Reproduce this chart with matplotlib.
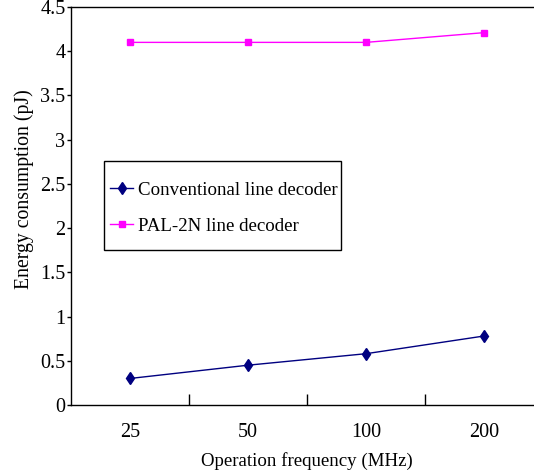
import matplotlib.pyplot as plt
from matplotlib.patches import Rectangle
import numpy as np

plt.rcParams['font.family'] = ['Liberation Serif', 'DejaVu Serif']

# operating frequencies and energy per access
freqs = ['25', '50', '100', '200']
conventional = [0.30, 0.45, 0.58, 0.78]
pal_2n = [4.10, 4.10, 4.10, 4.21]

x = np.arange(len(freqs))

fig = plt.figure(figsize=(5.34, 4.70), dpi=100)
ax = fig.add_axes([71 / 534, 1 - 405 / 470, 472 / 534, 398 / 470])

ax.plot(x, conventional, color='#000080', marker='d', markersize=6.5,
        linewidth=1, label='Conventional line decoder')
ax.plot(x, pal_2n, color='#FF00FF', marker='s', markersize=5,
        linewidth=1, label='PAL-2N line decoder')

ax.set_xlim(-0.5, 3.5)
ax.set_ylim(0, 4.5)
ax.set_yticks(np.arange(0, 4.51, 0.5))
ax.set_yticklabels(['0', '0.5', '1', '1.5', '2', '2.5', '3', '3.5', '4', '4.5'])
ax.set_xticks(x)
ax.set_xticklabels(freqs)
ax.set_xticks([0.5, 1.5, 2.5], minor=True)

ax.tick_params(axis='x', which='major', length=0, pad=13, labelsize=14.5)
ax.tick_params(axis='x', which='minor', direction='in', length=8, width=1)
ax.tick_params(axis='y', direction='out', length=3, width=1, labelsize=14.5, pad=1)

ax.spines['right'].set_visible(False)
for s in ('left', 'top', 'bottom'):
    ax.spines[s].set_linewidth(1)

ax.set_xlabel('Operation frequency (MHz)', fontsize=13.6, labelpad=7)
ax.set_ylabel('Energy consumption (pJ)', fontsize=14.2)
ax.yaxis.set_label_coords(-0.079, 0.543)

# legend entries without their own frame, box drawn separately
leg = ax.legend(loc='center left', bbox_to_anchor=(39 / 472, 0.495),
                fontsize=13.6, frameon=False, borderpad=0,
                labelspacing=1.0, handlelength=1.22, handletextpad=0.26,
                borderaxespad=0)
ax.add_patch(Rectangle((33 / 472, 155 / 398), 237 / 472, 89 / 398,
                       transform=ax.transAxes, fill=False,
                       edgecolor='black', linewidth=1, zorder=5))

plt.savefig('out.png', dpi=100)
